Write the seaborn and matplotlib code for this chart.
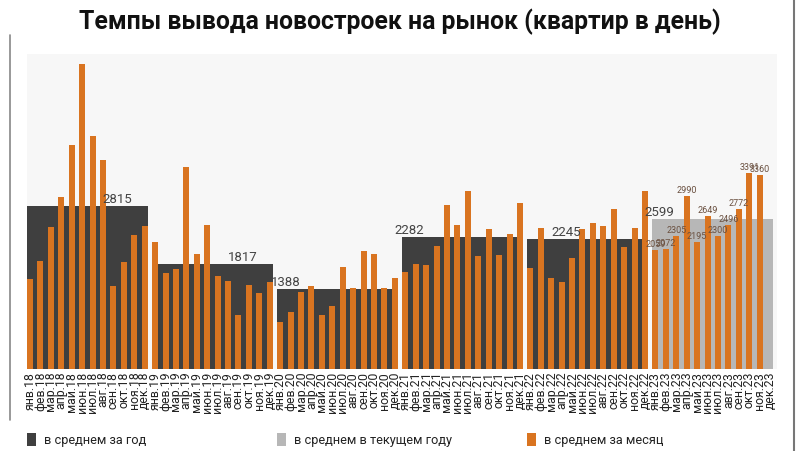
import numpy as np
import pandas as pd
import matplotlib
matplotlib.use('Agg')
import matplotlib.pyplot as plt
from matplotlib.patches import Patch
import seaborn as sns

# monthly values (flats per day), Jan 2018 .. Dec 2023
month_names = ['янв', 'фев', 'мар', 'апр', 'май', 'июн',
               'июл', 'авг', 'сен', 'окт', 'ноя', 'дек']
years = ['18', '19', '20', '21', '22', '23']
months = [m + '.' + y for y in years for m in month_names]

vals_2018 = [1552, 1874, 2462, 2970, 3881, 5277, 4031, 3616, 1441, 1857, 2318, 2474]
vals_2019 = [2200, 1655, 1730, 3489, 1984, 2486, 1614, 1522, 934, 1453, 1320, 1510]
vals_2020 = [808, 986, 1338, 1436, 929, 1084, 1770, 1396, 2047, 1990, 1400, 1580]
vals_2021 = [1684, 1811, 1799, 2134, 2843, 2486, 3085, 1949, 2416, 1966, 2330, 2866]
vals_2022 = [1753, 2445, 1580, 1511, 1920, 2416, 2520, 2474, 2762, 2111, 2439, 3085]
vals_2023 = [2059, 2072, 2305, 2990, 2195, 2649, 2300, 2496, 2772, 3391, 3360, np.nan]

year_avg = [2815, 1817, 1388, 2282, 2245, 2599]
current_year = 5

monthly = vals_2018 + vals_2019 + vals_2020 + vals_2021 + vals_2022 + vals_2023
df = pd.DataFrame({'month': months, 'value': monthly}).dropna()

ORANGE = '#d97420'
DARK = '#3f3f3f'
LIGHT = '#b7b7b7'
BW = 0.576

sns.set_style('white')
plt.rcParams['font.family'] = ['Roboto', 'DejaVu Sans']

fig = plt.figure(figsize=(8, 4.51), dpi=100)
ax = fig.add_axes([27 / 800, 1 - 369 / 451, 750 / 800, 315 / 451])
ax.set_facecolor('#f7f7f7')

# yearly average blocks
label_off = [8.4, 8.4, 0.5, 0.4, 3.4, 0.4]
for i, avg in enumerate(year_avg):
    start = i * 12
    c = LIGHT if i == current_year else DARK
    ax.bar(start - BW / 2, avg, width=11 + BW, align='edge', color=c,
           linewidth=0, zorder=1)
    ax.text(start + label_off[i], avg, str(avg), ha='center', va='bottom',
            fontsize=9.5, color='#444444', zorder=3)

sns.barplot(data=df, x='month', y='value', order=months, color=ORANGE,
            saturation=1, width=BW, errorbar=None, linewidth=0, zorder=2, ax=ax)

# value labels for current year
for j, v in enumerate(vals_2023):
    if np.isnan(v):
        continue
    ax.text(current_year * 12 + j, v + 20, str(int(v)), ha='center', va='bottom',
            fontsize=6.5, color='#6a5040', zorder=3)

ax.set_xlim(-BW / 2, 71.66)
ax.set_ylim(0, 5450)
ax.set_xticks(range(len(months)))
ax.set_xticklabels(months, rotation=90, fontsize=8.8, color='#222222')
ax.tick_params(axis='x', length=0, pad=2)
ax.set_yticks([])
ax.set_xlabel('')
ax.set_ylabel('')
for s in ax.spines.values():
    s.set_visible(False)

fig.text(0.5, 1 - 22 / 451, 'Темпы вывода новостроек на рынок (квартир в день)',
         ha='center', va='center', fontsize=17.8, fontweight='bold', color='#111111')

# legend items
leg_items = [('в среднем за год', DARK, 27), ('в среднем в текущем году', LIGHT, 277),
             ('в среднем за месяц', ORANGE, 527)]
for txt, c, px in leg_items:
    lg = fig.legend(handles=[Patch(facecolor=c, edgecolor='none', label=txt)],
                    loc='center left', bbox_to_anchor=(px / 800, 1 - 440 / 451),
                    frameon=False, fontsize=9.2, handlelength=0.7, handleheight=1.1,
                    handletextpad=0.6, borderpad=0, borderaxespad=0)
    for t in lg.get_texts():
        t.set_color('#222222')

# screenshot frame lines
fig.add_artist(plt.Line2D([10 / 800, 10 / 800], [1 - 420 / 451, 1 - 35 / 451],
                          transform=fig.transFigure, color='#888888', lw=1.2))
fig.add_artist(plt.Line2D([794 / 800, 794 / 800], [0, 1],
                          transform=fig.transFigure, color='#777777', lw=1.5))

fig.savefig('out.png', dpi=100)
